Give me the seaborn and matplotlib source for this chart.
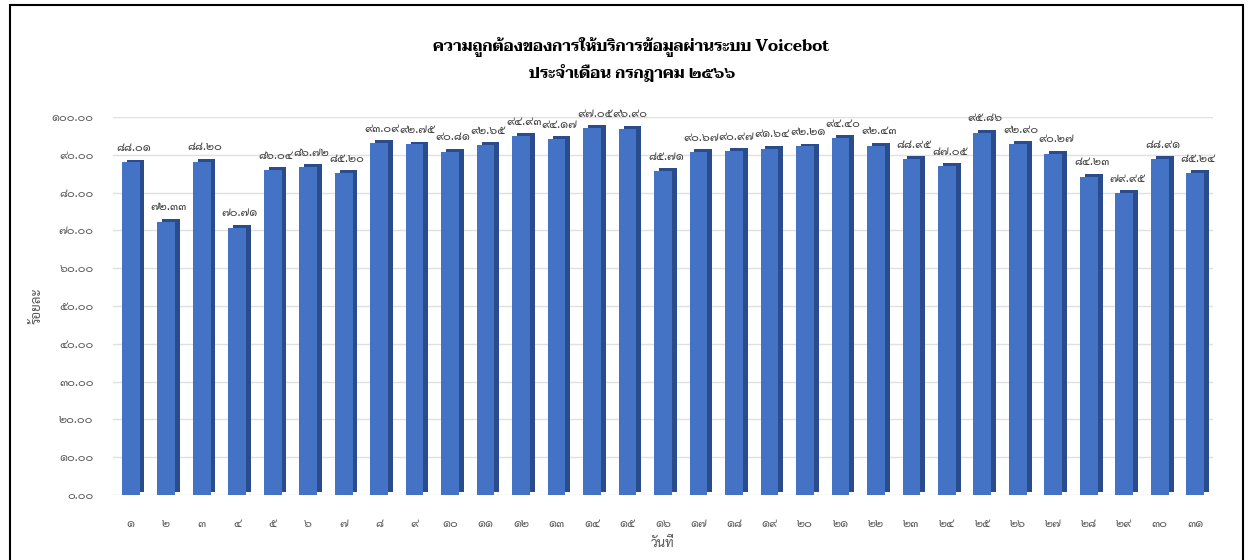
import matplotlib
matplotlib.use('Agg')
import matplotlib.pyplot as plt
import matplotlib.patheffects as pe
from matplotlib import font_manager
from matplotlib.patches import Rectangle
import pandas as pd
import seaborn as sns

# accuracy of Voicebot answers, July 2566
days = list(range(1, 32))
accuracy = [88.01, 72.33, 88.20, 70.71, 86.04, 86.72, 85.20, 93.09, 92.75, 90.81,
            92.65, 94.93, 94.17, 97.05, 96.90, 85.71, 90.67, 90.97, 91.64, 92.21,
            94.40, 92.43, 88.95, 87.05, 95.86, 92.90, 90.27, 84.23, 79.95, 88.91,
            85.24]
y_ticks = [0, 10, 20, 30, 40, 50, 60, 70, 80, 90, 100]

title = 'ความถูกต้องของการให้บริการข้อมูลผ่านระบบ Voicebot\nประจำเดือน กรกฎาคม ๒๕๖๖'
x_label = 'วันที่'
y_label = 'ร้อยละ'

THAI = str.maketrans('0123456789', '๐๑๒๓๔๕๖๗๘๙')


def thai(s):
    return str(s).translate(THAI)


def pick_font(names):
    for n in names:
        try:
            font_manager.findfont(font_manager.FontProperties(family=n), fallback_to_default=False)
            return n
        except Exception:
            continue
    return 'DejaVu Sans'


body_font = pick_font(['TH Sarabun New', 'TH SarabunPSK', 'Sarabun', 'Noto Sans Thai', 'Athiti'])
title_font = pick_font(['TH Sarabun New', 'Taviraj', 'Noto Serif Thai', 'Sarabun'])

sns.set_theme(style='white')
plt.rcParams['font.family'] = [body_font, 'DejaVu Sans']

df = pd.DataFrame({'day': [thai(d) for d in days], 'acc': accuracy})

fig = plt.figure(figsize=(12.51, 5.6), dpi=100)
ax = fig.add_axes([113 / 1251, 1 - 495 / 560, (1213 - 113) / 1251, (495 - 117) / 560])

sns.barplot(data=df, x='day', y='acc', color='#4472C4', width=0.5, saturation=1,
            edgecolor='none', linewidth=0, ax=ax, zorder=3)
# fake the 3-D side face with a darker shadow
for p in ax.patches:
    p.set_path_effects([pe.SimplePatchShadow(offset=(3.5, 2), shadow_rgbFace='#2B4C8C', alpha=1),
                        pe.Normal()])

for p, v in zip(ax.patches, accuracy):
    ax.annotate(thai('%.2f' % v), (p.get_x() + p.get_width() / 2, v),
                xytext=(2, 6), textcoords='offset points', ha='center', va='bottom',
                fontsize=8.5, color='#404040', family=[body_font, 'DejaVu Sans'])

ax.set_ylim(0, 100)
ax.set_yticks(y_ticks)
ax.set_yticklabels([thai('%.2f' % t) for t in y_ticks])
ax.yaxis.grid(True, color='#E0E0E0', linewidth=1, zorder=0)
ax.set_axisbelow(True)
sns.despine(ax=ax, left=True, bottom=True)
ax.tick_params(axis='both', length=0, labelsize=8.5, colors='#595959')
ax.tick_params(axis='y', pad=14)
ax.tick_params(axis='x', pad=17)

ax.set_xlabel(x_label, fontsize=9.5, color='#595959', labelpad=5)
ax.set_ylabel(y_label, fontsize=9.5, color='#595959', labelpad=6)

fig.text(0.505, 0.895, title, ha='center', va='center', fontsize=11.2, fontweight='bold',
         color='#000000', linespacing=1.55, family=[title_font, 'Liberation Serif'])

fig.patches.append(Rectangle((10 / 1251, -0.02), (1243 - 10) / 1251, 1.02 - 5 / 560,
                             transform=fig.transFigure, fill=False, edgecolor='black',
                             linewidth=1.5))

fig.savefig('out.png', dpi=100)
